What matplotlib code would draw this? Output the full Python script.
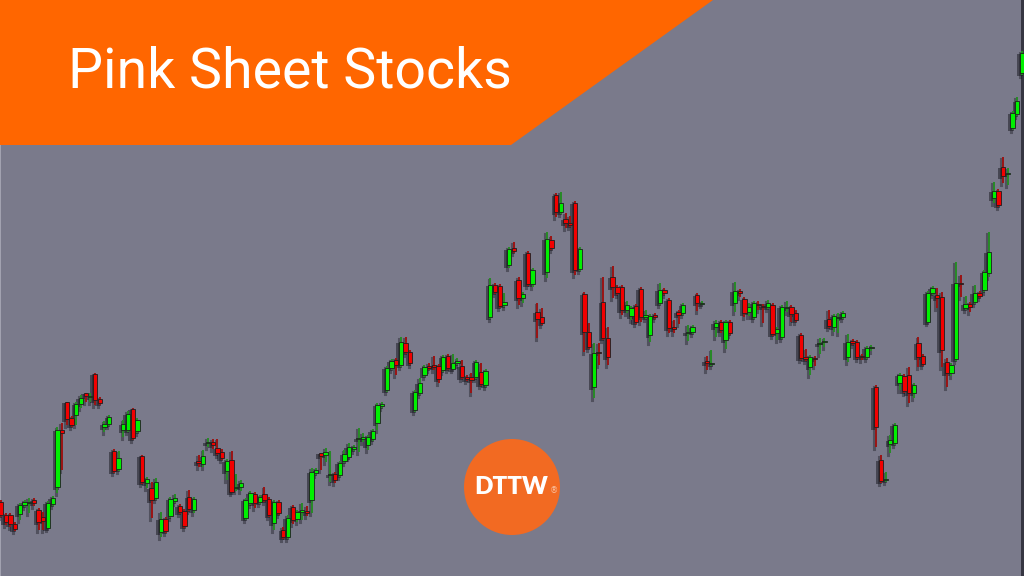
import numpy as np
import matplotlib
matplotlib.use("Agg")
import matplotlib.pyplot as plt
from matplotlib.patches import Polygon, Circle, Rectangle
from matplotlib.lines import Line2D
import matplotlib.transforms as mtransforms

title = "Pink Sheet Stocks"
logo_text = "DTTW"

# OHLC prices (cents), one candle per trading day
open_ = [74, 61, 61, 52, 62, 71, 73, 76, 66, 59, 48, 72, 89, 146, 174, 158, 161, 172, 183, 179,
         202, 177, 149, 152, 125, 107, 146, 146, 167, 145, 120, 93, 88, 78, 44, 57, 60, 75, 70, 65,
         79, 66, 115, 112, 133, 134, 128, 124, 105, 116, 88, 89, 58, 73, 82, 74, 82, 77, 53, 74,
         46, 39, 69, 57, 64, 65, 76, 103, 123, 121, 101, 102, 101, 115, 119, 127, 137, 137, 131, 137,
         153, 170, 186, 208, 216, 211, 233, 224, 166, 183, 201, 210, 211, 210, 206, 220, 207, 213, 210, 199,
         199, 199, 204, 191, 259, 291, 290, 271, 311, 328, 296, 278, 323, 292, 264, 259, 304, 336, 381, 364,
         357, 353, 373, 307, 282, 244, 189, 224, 274, 238, 299, 289, 289, 266, 260, 270, 287, 259, 241, 261,
         273, 286, 276, 249, 264, 263, 243, 244, 281, 272, 215, 212, 249, 254, 236, 254, 273, 285, 277, 264,
         259, 272, 270, 269, 271, 243, 239, 268, 269, 263, 241, 219, 209, 218, 232, 234, 257, 249, 258, 259,
         219, 235, 234, 220, 219, 228, 189, 116, 96, 132, 133, 193, 200, 201, 183, 233, 220, 254, 283, 281,
         279, 214, 203, 217, 293, 268, 272, 274, 283, 286, 303, 378, 385, 409, 402, 448, 462, 503]
high = [76, 63, 63, 54, 73, 76, 78, 78, 68, 64, 75, 80, 149, 153, 174, 160, 174, 181, 183, 183,
        203, 179, 155, 161, 127, 125, 156, 165, 168, 158, 121, 99, 94, 98, 64, 59, 79, 82, 72, 67,
        86, 79, 121, 126, 138, 137, 137, 127, 117, 125, 102, 96, 78, 85, 84, 81, 89, 79, 76, 76,
        49, 61, 71, 66, 73, 70, 108, 108, 123, 128, 125, 104, 115, 126, 133, 131, 148, 143, 141, 147,
        173, 174, 210, 217, 218, 239, 239, 226, 186, 198, 211, 213, 220, 212, 221, 222, 222, 218, 216, 201,
        203, 216, 213, 207, 298, 293, 292, 283, 329, 334, 299, 284, 325, 308, 273, 268, 344, 340, 383, 384,
        363, 360, 375, 329, 284, 253, 233, 233, 299, 249, 310, 291, 291, 275, 270, 272, 289, 266, 262, 263,
        293, 288, 278, 256, 266, 273, 251, 251, 283, 275, 220, 226, 256, 256, 256, 256, 294, 287, 279, 273,
        275, 275, 272, 276, 273, 249, 271, 275, 271, 266, 243, 227, 221, 220, 238, 238, 266, 262, 263, 265,
        242, 237, 236, 222, 230, 231, 191, 121, 104, 141, 153, 203, 202, 209, 193, 239, 222, 285, 290, 288,
        284, 218, 213, 314, 301, 280, 274, 291, 285, 306, 344, 394, 387, 419, 408, 465, 479, 525]
low = [59, 51, 49, 45, 56, 69, 63, 70, 46, 46, 47, 70, 83, 106, 151, 149, 151, 168, 174, 174,
       171, 171, 144, 150, 103, 105, 139, 144, 136, 143, 92, 88, 58, 76, 39, 43, 58, 73, 62, 48,
       65, 63, 109, 109, 129, 127, 121, 116, 96, 83, 85, 85, 56, 71, 68, 72, 74, 59, 46, 61,
       37, 37, 52, 54, 56, 60, 63, 101, 106, 114, 94, 93, 99, 113, 118, 125, 124, 134, 126, 135,
       146, 168, 184, 206, 201, 209, 222, 211, 164, 181, 199, 206, 206, 193, 204, 206, 206, 211, 197, 195,
       183, 197, 190, 189, 257, 282, 268, 269, 308, 323, 271, 273, 290, 289, 238, 251, 298, 326, 359, 362,
       348, 349, 301, 305, 224, 227, 178, 211, 236, 211, 278, 281, 261, 263, 256, 252, 254, 257, 234, 257,
       271, 281, 243, 243, 252, 261, 235, 242, 265, 271, 206, 210, 239, 243, 227, 241, 264, 279, 259, 260,
       257, 266, 253, 267, 240, 236, 237, 264, 254, 254, 216, 215, 201, 210, 222, 229, 248, 244, 243, 257,
       214, 231, 217, 216, 217, 225, 129, 93, 94, 123, 131, 186, 183, 173, 178, 209, 210, 253, 281, 268,
       209, 189, 200, 215, 279, 266, 264, 272, 278, 284, 299, 373, 369, 393, 391, 446, 460, 501]
close = [61, 54, 52, 47, 71, 74, 74, 73, 54, 55, 73, 78, 146, 143, 157, 151, 172, 178, 180, 180,
         176, 173, 152, 159, 105, 118, 152, 162, 138, 156, 94, 97, 76, 94, 57, 45, 77, 78, 64, 50,
         67, 77, 113, 120, 134, 131, 123, 118, 115, 84, 89, 93, 76, 83, 73, 79, 76, 61, 74, 63,
         39, 58, 56, 64, 66, 63, 104, 106, 120, 124, 102, 96, 113, 122, 129, 129, 138, 139, 139, 145,
         171, 172, 208, 215, 211, 234, 224, 213, 184, 193, 209, 208, 209, 197, 219, 208, 213, 215, 199, 197,
         196, 214, 192, 205, 291, 284, 270, 274, 327, 325, 278, 282, 292, 306, 257, 253, 337, 328, 364, 373,
         353, 351, 306, 327, 244, 229, 223, 223, 238, 219, 289, 283, 266, 271, 268, 254, 259, 261, 260, 259,
         286, 283, 248, 247, 261, 271, 244, 249, 273, 273, 213, 213, 253, 246, 254, 243, 285, 283, 263, 269,
         273, 271, 269, 273, 242, 247, 269, 269, 262, 256, 218, 217, 219, 217, 233, 235, 250, 260, 259, 263,
         234, 233, 219, 219, 228, 229, 149, 95, 97, 136, 151, 201, 185, 183, 191, 219, 212, 283, 288, 278,
         226, 203, 211, 293, 292, 272, 269, 283, 280, 304, 324, 385, 371, 400, 403, 463, 475, 523]

BG = "#7a7a8b"
ORANGE = "#ff6600"
LOGO_ORANGE = "#f26a22"
UP_BODY = "#00f000"
DN_BODY = "#f20000"
UP_WICK = "#278a27"
DN_WICK = "#9a1414"

o = np.array(open_, float)
h = np.array(high, float)
l = np.array(low, float)
c = np.array(close, float)
day = np.arange(len(o))
up = c >= o
bottoms = np.minimum(o, c)
heights = np.maximum(np.abs(c - o), 1.5)
bw = 0.92

fig = plt.figure(figsize=(10.24, 5.76), dpi=100)
fig.patch.set_facecolor(BG)
ax = fig.add_axes([0, 0, 1, 1])
ax.set_facecolor(BG)
ax.set_xlim(-0.21, 217.43)
ax.set_ylim(0, 576)
ax.axis("off")

# edge strips behind the candles
ax.add_patch(Rectangle((1 - 3.2 / 1024, 0), 3.2 / 1024, 1, transform=ax.transAxes,
                       fc="#2b2b35", ec="none", alpha=0.85, zorder=0.5))
ax.add_patch(Rectangle((0, 0), 1.2 / 1024, 1, transform=ax.transAxes,
                       fc="#a2a2b0", ec="none", zorder=0.5))

shadow = mtransforms.offset_copy(ax.transData, fig=fig, x=-1.8, y=-1.8, units="dots")

for i in day:
    ax.add_line(Line2D([i, i], [l[i], h[i]], color="#15151c", alpha=0.4, lw=2.2,
                       transform=shadow, zorder=1))
    ax.add_patch(Rectangle((i - bw / 2 - 0.15, bottoms[i] - 0.8), bw + 0.3, heights[i] + 1.6,
                           fc="#15151c", ec="none", alpha=0.5, transform=shadow, zorder=1))
for i in day:
    wc = UP_WICK if up[i] else DN_WICK
    bc = UP_BODY if up[i] else DN_BODY
    ax.add_line(Line2D([i, i], [l[i], h[i]], color=wc, lw=1.4, zorder=2,
                       solid_capstyle="butt"))
    ax.add_patch(Rectangle((i - bw / 2, bottoms[i]), bw, heights[i], fc=bc,
                           ec="#1e1e1e", lw=0.6, zorder=3))

# overlay in pixel coordinates for decorations
ov = fig.add_axes([0, 0, 1, 1])
ov.set_xlim(0, 1024)
ov.set_ylim(576, 0)
ov.axis("off")
ov.patch.set_alpha(0)

ov.add_patch(Polygon([(0, 0), (713, 0), (511, 145), (0, 145)], closed=True,
                     fc=ORANGE, ec="none", zorder=5))
ov.text(68, 88, title, fontsize=40, family="Roboto", color="white",
        ha="left", va="baseline", zorder=6)

ov.add_patch(Circle((512, 487), 48, fc=LOGO_ORANGE, ec="none", zorder=5))
ov.text(511, 487, logo_text, fontsize=17.5, family="Lato", fontweight="heavy",
        color="white", ha="center", va="center", zorder=6)
ov.text(554, 491, "®", fontsize=6, family="DejaVu Sans", color="#f9c3a3",
        ha="center", va="center", zorder=6)

fig.savefig("out.png", dpi=100, facecolor=BG)
